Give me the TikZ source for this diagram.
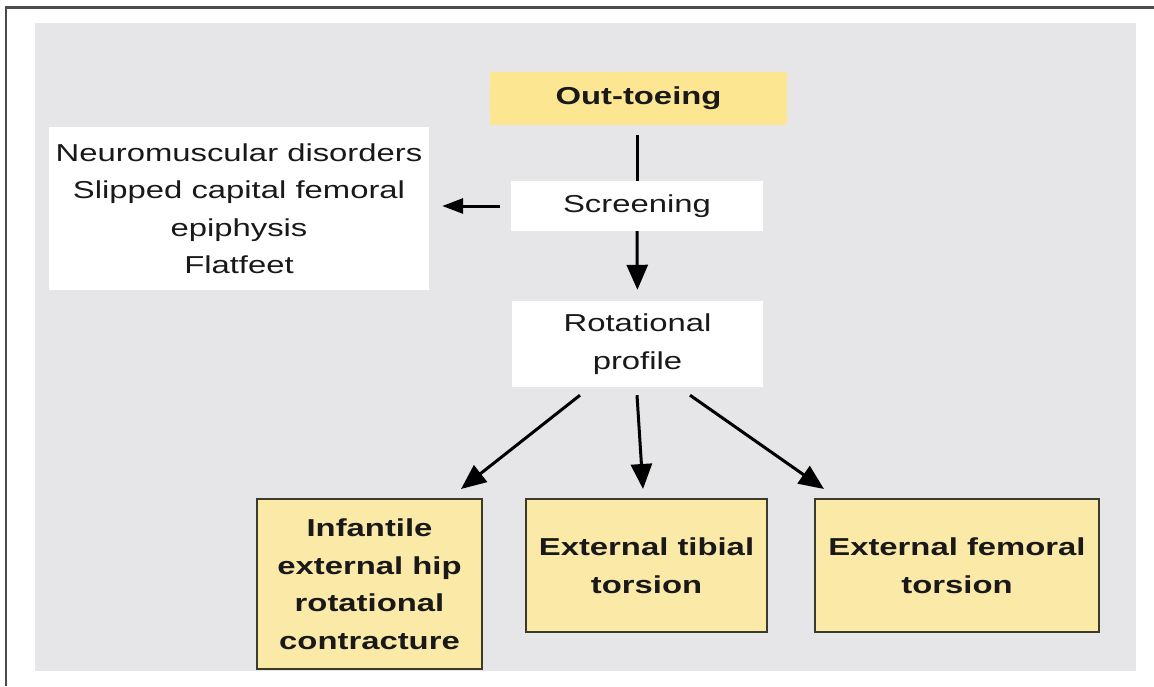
\documentclass[tikz,border=0pt]{standalone}
\usepackage{fontspec}
\setmainfont[FakeStretch=1.34]{Liberation Sans}
\usetikzlibrary{calc,arrows.meta}
\definecolor{panelgray}{RGB}{230,230,232}
\definecolor{toeyellow}{RGB}{253,230,145}
\definecolor{boxyellow}{RGB}{251,233,168}
\definecolor{boxedge}{RGB}{60,58,44}

\begin{document}
\begin{tikzpicture}[x=1pt, y=-1pt,
		font=\fontsize{24.5}{37.5}\selectfont, text=black!90,
		plainbox/.style={fill=white, inner sep=0pt, align=center},
		ylwbox/.style={fill=boxyellow, draw=boxedge, line width=2pt, inner sep=0pt, align=center, font=\fontsize{24.5}{37.5}\selectfont\bfseries},
		arr/.style={line width=3pt, -{Triangle[length=25pt,width=21pt]}}]
		%%%%% START %%%%%
		
		\useasboundingbox (0,0) rectangle (1154,686);
		\draw[line width=2.2pt, color=black!70] (6,686) -- (6,7.5) -- (1154,7.5);
		\fill[panelgray] (35,23) rectangle (1136,671);
		
		\node[plainbox, fill=toeyellow, minimum width=297pt, minimum height=53pt, font=\fontsize{24.5}{37.5}\selectfont\bfseries] (outtoeing) at (638.5,98.5) {Out-toeing};
		\node[plainbox, minimum width=252pt, minimum height=50pt] (screening) at (637,206) {Screening};
		\node[plainbox, minimum width=251pt, minimum height=86pt] (rotprofile) at (637.5,344) {Rotational\\profile};
		\node[plainbox, minimum width=380pt, minimum height=163pt] (causes) at (239,208.5) {Neuromuscular disorders\\Slipped capital femoral\\epiphysis\\Flatfeet};
		
		\node[ylwbox, minimum width=225pt, minimum height=170pt] (hipcontr) at (369.5,584) {Infantile\\external hip\\rotational\\contracture};
		\node[ylwbox, minimum width=241pt, minimum height=133pt] (tibial) at (646.5,565.5) {External tibial\\torsion};
		\node[ylwbox, minimum width=284pt, minimum height=133pt] (femoral) at (957,565.5) {External femoral\\torsion};
		
		\draw[line width=3pt, shorten <=10pt] (outtoeing.south -| screening.north) -- (screening.north);
		\draw[arr, shorten >=11pt] (screening.south) -- (rotprofile.north);
		\draw[arr, -{Triangle[length=21pt,width=15pt]}, shorten <=11pt, shorten >=13pt] (screening.west) -- (screening.west -| causes.east);
		
		\draw[arr] ($(rotprofile.south)+(-57.5,8)$) -- ($(hipcontr.north east)+(-22,-9)$);
		\draw[arr] ($(rotprofile.south)+(-0.5,8)$) -- ($(tibial.north)+(-3.5,-9)$);
		\draw[arr] ($(rotprofile.south)+(52.5,8)$) -- ($(femoral.north west)+(10,-9)$);
		
		%%%%% END %%%%%
	\end{tikzpicture}
\end{document}
